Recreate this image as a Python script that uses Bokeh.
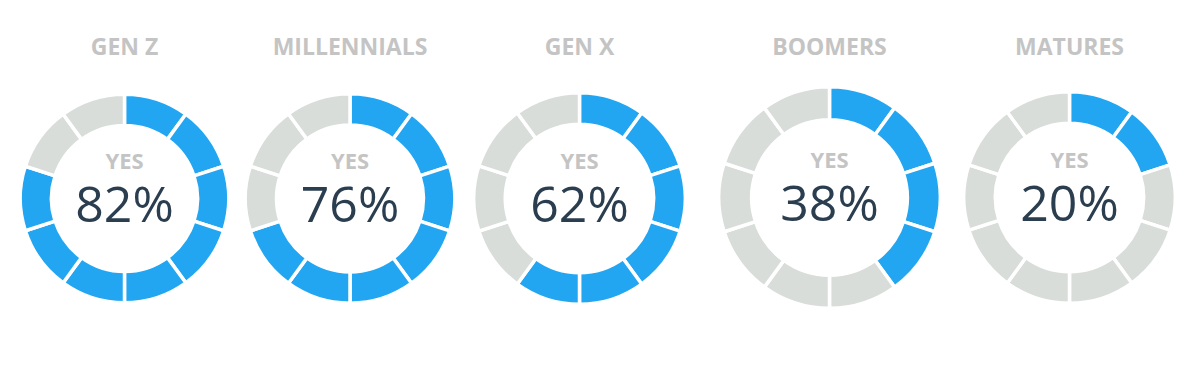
from bokeh.plotting import figure
from bokeh.models import ColumnDataSource, Range1d
from bokeh.core.properties import value
from bokeh.embed import file_html
from bokeh.resources import INLINE

# ---- data ----
categories = ["GEN Z", "MILLENNIALS", "GEN X", "BOOMERS", "MATURES"]
yes_pct = [82, 76, 62, 38, 20]
filled_segments = [8, 7, 6, 4, 2]
n_segments = 10

# ---- layout ----
W, H = 1192, 377
cx = [124, 349.5, 579, 829, 1069]
cy_top = [198, 198, 198, 197, 197]
r_out = [102.5, 103, 104, 109, 104]
ring_ratio = 0.73
title_y_top = 45
yes_dy = -39
pct_dy = 4
gap = 3.5

BLUE = "#22a6f2"
GRAY = "#d8ddd9"
TITLE_C = "#c4c4c4"
PCT_C = "#2b3e50"

seg = dict(x=[], y=[], r_in=[], r_out=[], start=[], end=[], color=[])
step = 360.0 / n_segments
for k in range(len(categories)):
    for i in range(n_segments):
        seg["x"].append(cx[k])
        seg["y"].append(H - cy_top[k])
        seg["r_out"].append(r_out[k] + gap / 2)
        seg["r_in"].append(r_out[k] * ring_ratio - gap / 2)
        seg["start"].append(90 - step * i)
        seg["end"].append(90 - step * (i + 1))
        seg["color"].append(BLUE if i < filled_segments[k] else GRAY)
seg_src = ColumnDataSource(seg)

p = figure(width=W, height=H, output_backend="svg", toolbar_location=None,
           x_range=Range1d(0, W), y_range=Range1d(0, H), min_border=0)
p.axis.visible = False
p.grid.visible = False
p.outline_line_color = None
p.background_fill_color = "white"
p.border_fill_color = "white"

p.annular_wedge(x="x", y="y", inner_radius="r_in", outer_radius="r_out",
                start_angle="start", end_angle="end", start_angle_units="deg",
                end_angle_units="deg", direction="clock", source=seg_src,
                fill_color="color", line_color="white", line_width=gap)

txt = ColumnDataSource(dict(
    x=cx,
    ty=[H - title_y_top] * len(categories),
    yy=[H - (c + yes_dy) for c in cy_top],
    py=[H - (c + pct_dy) for c in cy_top],
    title=categories,
    yes=["YES"] * len(categories),
    pct=[f"{v}%" for v in yes_pct],
))

p.text(x="x", y="ty", text="title", source=txt, text_align="center",
       text_baseline="middle", text_font=value("Open Sans"),
       text_font_style="bold", text_font_size="23px", text_color=TITLE_C)
p.text(x="x", y="yy", text="yes", source=txt, text_align="center",
       text_baseline="middle", text_font=value("Open Sans"),
       text_font_style="bold", text_font_size="22px", text_color=TITLE_C)
p.text(x="x", y="py", text="pct", source=txt, text_align="center",
       text_baseline="middle", text_font=value("Open Sans"),
       text_font_size="50px", text_color=PCT_C)

open("out.html", "w").write(file_html(p, INLINE))
